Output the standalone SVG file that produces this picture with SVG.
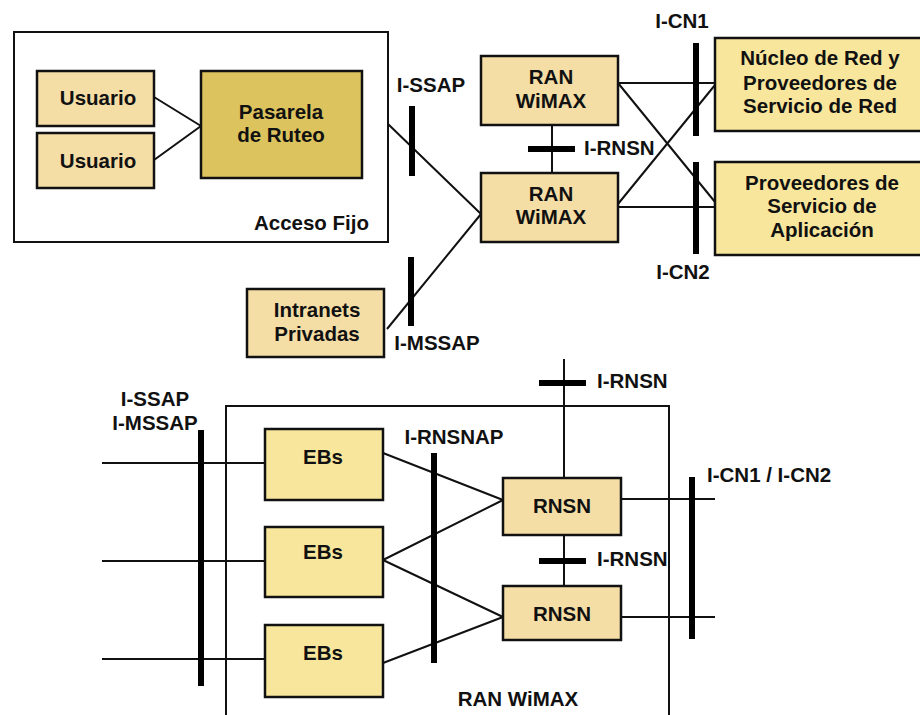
<svg xmlns="http://www.w3.org/2000/svg" width="920" height="715" viewBox="0 0 920 715">
<style>
text{font-family:"Liberation Sans",Arial,sans-serif;font-weight:bold;font-size:20.5px;fill:#111}
.c{text-anchor:middle}
.frame{fill:none;stroke:#111;stroke-width:2}
.tan{fill:#f5dea6;stroke:#111;stroke-width:2.5}
.yel{fill:#f8e69c;stroke:#111;stroke-width:2.5}
.gold{fill:#dcc35e;stroke:#111;stroke-width:2.5}
.ln{stroke:#111;stroke-width:2;fill:none}
.bar{stroke:#000;stroke-width:6;fill:none}
</style>
<rect width="920" height="715" fill="#fff"/>

<g id="acceso-fijo">
<rect class="frame" x="14" y="32" width="374" height="210"/>
<text x="369" y="230" text-anchor="end">Acceso Fijo</text>
</g>
<g id="ran-wimax-big">
<path class="frame" d="M226,716 V406 H669 V716"/>
<text x="518" y="706" class="c">RAN WiMAX</text>
</g>

<g id="connectors">
<path class="ln" d="M154,97 L201,126 M154,160 L201,126"/>
<path class="ln" d="M388,124 L481,214 M387,329 L481,214"/>
<path class="ln" d="M552,125 V173"/>
<path class="ln" d="M618,83 H715 M618,83 L715,202 M618,204 L715,85 M618,207 H715"/>
<path class="ln" d="M102,463 H265 M102,561 H265 M102,659 H265"/>
<path class="ln" d="M383,453 L503,500 M383,560 L503,500 M383,560 L503,617 M383,663 L503,617"/>
<path class="ln" d="M564,359 V478 M564,535 V586"/>
<path class="ln" d="M621,499 H715 M621,617 H715"/>
</g>

<g id="bars">
<path class="bar" d="M412,106 V176"/>
<path class="bar" d="M411,257 V326"/>
<path class="bar" d="M528,149 H575"/>
<path class="bar" d="M696,43 V136"/>
<path class="bar" d="M696,162 V254"/>
<path class="bar" d="M201,430 V686"/>
<path class="bar" d="M434,453 V663"/>
<path class="bar" d="M539,383 H586"/>
<path class="bar" d="M539,561 H586"/>
<path class="bar" d="M692,477 V639"/>
</g>

<g id="labels">
<text x="431" y="92" class="c">I-SSAP</text>
<text x="437" y="350" class="c">I-MSSAP</text>
<text x="584" y="155">I-RNSN</text>
<text x="682" y="28" class="c">I-CN1</text>
<text x="683" y="279" class="c">I-CN2</text>
<text x="155" y="406" class="c">I-SSAP</text>
<text x="155" y="430" class="c">I-MSSAP</text>
<text x="454" y="444" class="c">I-RNSNAP</text>
<text x="597" y="388">I-RNSN</text>
<text x="597" y="566">I-RNSN</text>
<text x="707" y="482">I-CN1 / I-CN2</text>
</g>

<g id="usuario1">
<rect class="tan" x="37" y="71" width="117" height="55"/>
<text x="98" y="105" class="c">Usuario</text>
</g>
<g id="usuario2">
<rect class="tan" x="37" y="133" width="117" height="55"/>
<text x="98" y="168" class="c">Usuario</text>
</g>
<g id="pasarela">
<rect class="gold" x="201" y="71" width="161" height="107"/>
<text x="281" y="119" class="c">Pasarela</text>
<text x="281" y="142" class="c">de Ruteo</text>
</g>
<g id="ran1">
<rect class="tan" x="481" y="56" width="137" height="69"/>
<text x="551" y="84" class="c">RAN</text>
<text x="551" y="108" class="c">WiMAX</text>
</g>
<g id="ran2">
<rect class="tan" x="481" y="173" width="137" height="69"/>
<text x="551" y="201" class="c">RAN</text>
<text x="551" y="224" class="c">WiMAX</text>
</g>
<g id="intranets">
<rect class="tan" x="247" y="289" width="137" height="68"/>
<text x="317" y="317" class="c">Intranets</text>
<text x="317" y="341" class="c">Privadas</text>
</g>
<g id="nucleo">
<rect class="yel" x="715" y="38" width="215" height="93"/>
<text x="820" y="65" class="c">Núcleo de Red y</text>
<text x="820" y="90" class="c">Proveedores de</text>
<text x="820" y="113" class="c">Servicio de Red</text>
</g>
<g id="proveedores">
<rect class="yel" x="715" y="162" width="215" height="93"/>
<text x="822" y="190" class="c">Proveedores de</text>
<text x="822" y="213" class="c">Servicio de</text>
<text x="822" y="237" class="c">Aplicación</text>
</g>
<g id="ebs1">
<rect class="yel" x="265" y="429" width="118" height="71"/>
<text x="323" y="464" class="c">EBs</text>
</g>
<g id="ebs2">
<rect class="yel" x="265" y="527" width="118" height="70"/>
<text x="323" y="559" class="c">EBs</text>
</g>
<g id="ebs3">
<rect class="yel" x="265" y="625" width="118" height="72"/>
<text x="323" y="660" class="c">EBs</text>
</g>
<g id="rnsn1">
<rect class="tan" x="503" y="478" width="118" height="57"/>
<text x="562" y="513" class="c">RNSN</text>
</g>
<g id="rnsn2">
<rect class="tan" x="503" y="586" width="118" height="54"/>
<text x="562" y="621" class="c">RNSN</text>
</g>
</svg>
